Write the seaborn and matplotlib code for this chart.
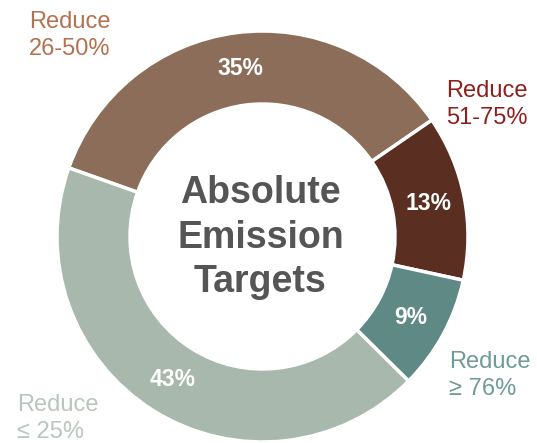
import matplotlib
matplotlib.use("Agg")
import matplotlib.pyplot as plt
import seaborn as sns
import numpy as np

# Data
categories = ["Reduce\n26-50%", "Reduce\n51-75%", "Reduce\n\u2265 76%", "Reduce\n\u2264 25%"]
values = [35, 13, 9, 43]
pct_labels = ["35%", "13%", "9%", "43%"]
center_title = "Absolute\nEmission\nTargets"

wedge_colors = ["#8C6D5A", "#5B2E22", "#5E8985", "#A8B8AD"]
label_colors = ["#B5714F", "#8E1F1F", "#6E9A97", "#B8C6BD"]

sns.set_theme(style="white")
plt.rcParams['font.family'] = ['Liberation Sans', 'DejaVu Sans']

W, H = 537, 443
fig = plt.figure(figsize=(W / 100, H / 100), dpi=100)
cx, cy, R = 262.5, 236.5, 205.5
ax = fig.add_axes([(cx - R) / W, (H - cy - R) / H, 2 * R / W, 2 * R / H])
ax.set_aspect("equal")

ring = 73 / 205.5
wedges, _ = ax.pie(values, colors=wedge_colors, startangle=160.5, counterclock=False,
                   radius=1.0, wedgeprops=dict(width=ring, edgecolor="white", linewidth=2.5))
ax.set_xlim(-1, 1)
ax.set_ylim(-1, 1)
ax.axis("off")

mid_r = 1 - ring / 2
for w, lab in zip(wedges, pct_labels):
    ang = np.deg2rad((w.theta1 + w.theta2) / 2)
    ax.text(mid_r * np.cos(ang), mid_r * np.sin(ang), lab, ha="center", va="center",
            color="white", fontsize=16.5, fontweight="bold")

ax.text(-0.01, -0.005, center_title, ha="center", va="center", color="#555555",
        fontsize=27, fontweight="bold", linespacing=1.32)

# outer labels (pixel positions of top-left corner)
label_pos = [(29, 11), (446, 80), (449, 351), (17, 394)]
for (px, py), txt, col in zip(label_pos, categories, label_colors):
    fig.text(px / W, 1 - py / H, txt, ha="left", va="top", color=col,
             fontsize=17, linespacing=1.3)

fig.savefig("out.png", dpi=100)
